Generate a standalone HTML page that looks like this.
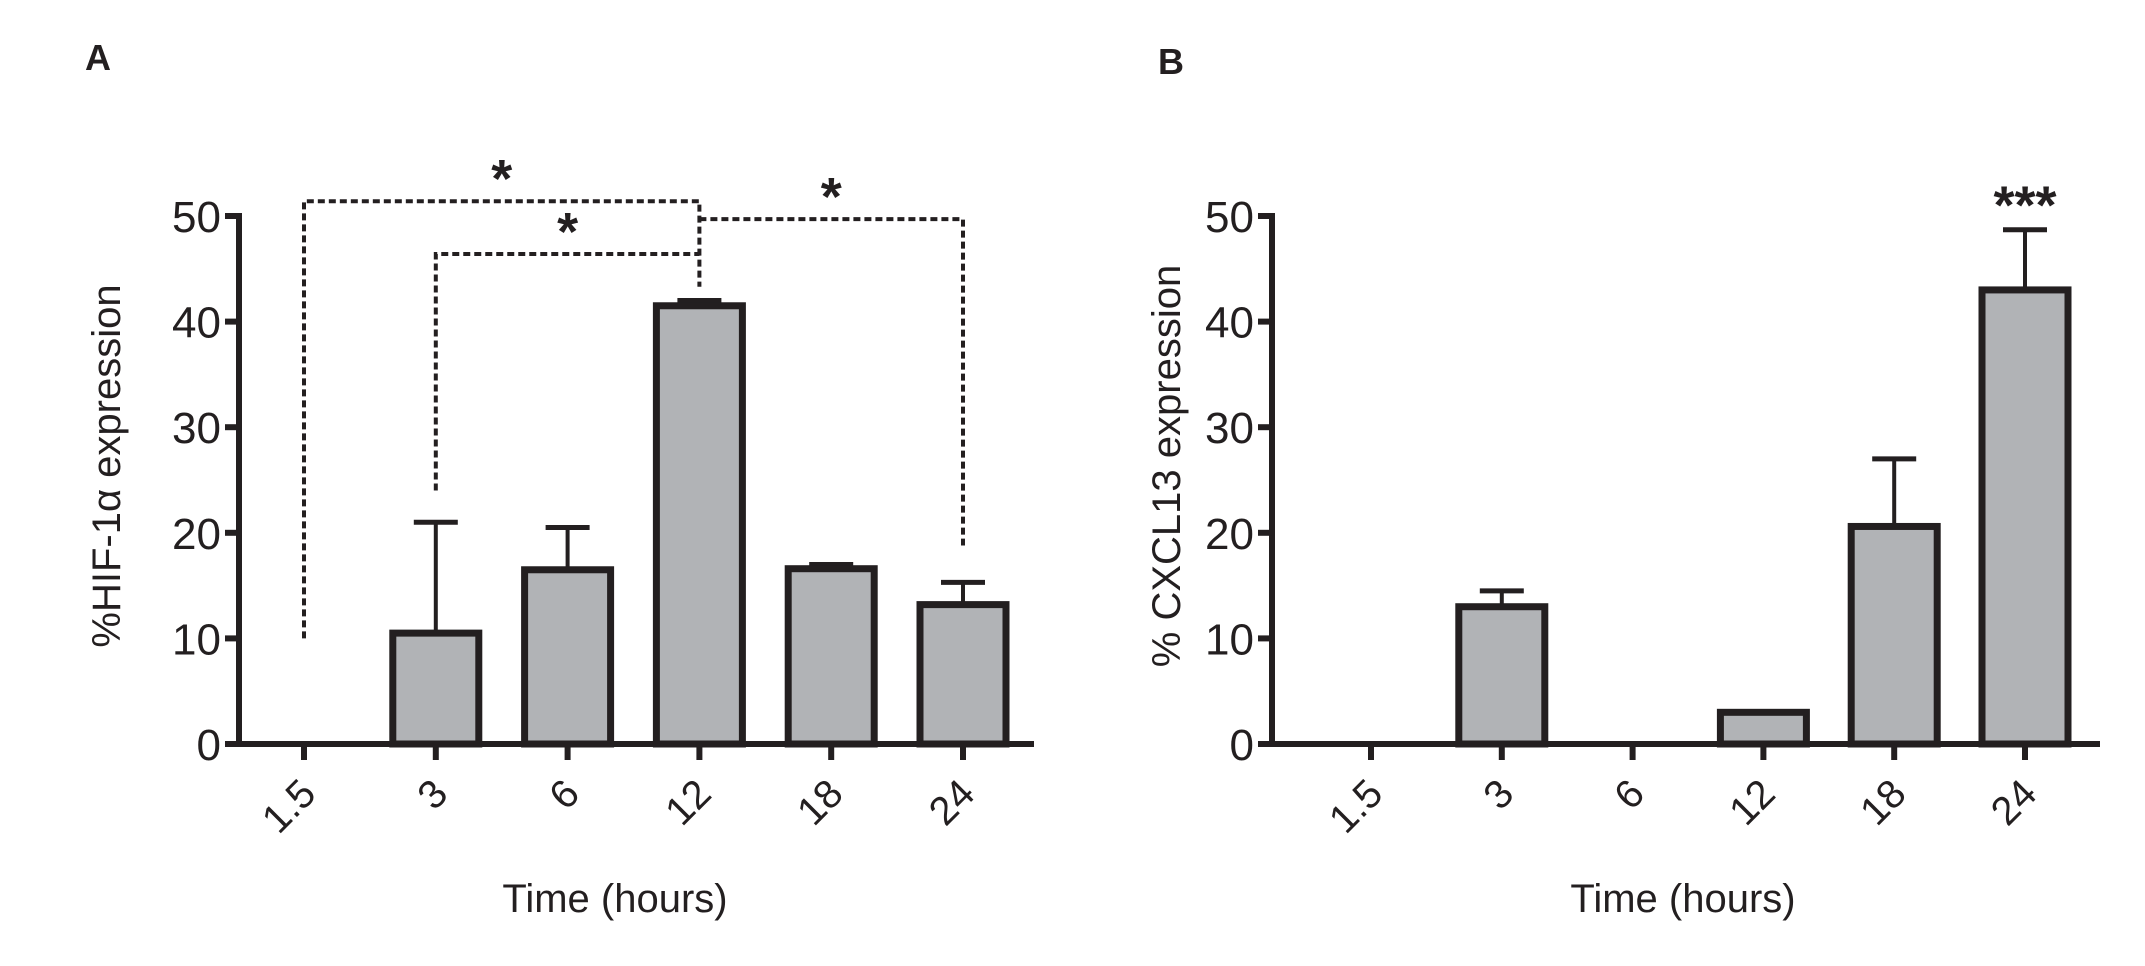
<!DOCTYPE html>
<html><head><meta charset="utf-8"><style>
html,body{margin:0;padding:0;background:#fff;}
svg{display:block;font-family:"Liberation Sans",Arial,sans-serif;}
</style></head><body>
<svg id="fig" width="2145" height="966" viewBox="0 0 2145 966">
<text x="85" y="70" font-size="36" font-weight="bold" fill="#231f20">A</text>
<text x="1158" y="74" font-size="36" font-weight="bold" fill="#231f20">B</text>
<g id="pa"></g>
<g id="pb"></g>
</svg>
<script>
const categories = ["1.5","3","6","12","18","24"];
const hifValues = [0,10.5,16.5,41.5,16.6,13.2];
const hifErrTop = [0,21,20.5,42,17,15.3];
const cxclValues = [0,13,0,3,20.6,43];
const cxclErrTop = [0,14.5,0,3,27,48.7];
const yTicks = [0,10,20,30,40,50];
const hifBrackets = [ // [fromIdx, fromY, topY, toIdx, toY, star label]
  [0,10,51.4,3,43.3,"*"],
  [1,24,46.4,3,46.4,"*"],
  [3,49.7,49.7,5,18.8,"*"]
];
const NS="http://www.w3.org/2000/svg";
function mk(parent,tag,attrs){const e=document.createElementNS(NS,tag);for(const k in attrs)e.setAttribute(k,attrs[k]);parent.appendChild(e);return e;}
function drawPanel(g,cfg){
  const y0=744,y50=216;
  const ys=v=>y0-(v/50)*(y0-y50);
  const xs=i=>cfg.x0+i*cfg.step;
  const col="#231f20";
  cfg.values.forEach((v,i)=>{
    if(cfg.errTop[i]>v){
      const l=mk(g,"line",{x1:xs(i),x2:xs(i),y1:ys(cfg.errTop[i]),y2:ys(v),stroke:col,"stroke-width":4});
      
      
      const c=mk(g,"line",{x1:xs(i)-22,x2:xs(i)+22,y1:ys(cfg.errTop[i]),y2:ys(cfg.errTop[i]),stroke:col,"stroke-width":5});
      
      
    }
    if(v>0){
      const r=mk(g,"rect",{x:xs(i)-43,y:ys(v),width:86,height:y0-ys(v),fill:"#b1b3b6",stroke:col,"stroke-width":7});
      
      
    }
  });
  const ya=mk(g,"line",{x1:cfg.ax,x2:cfg.ax,y1:y50-3,y2:y0+3,stroke:col,"stroke-width":6});
  
  
  const xa=mk(g,"line",{x1:cfg.ax-3,x2:cfg.axEnd,y1:y0,y2:y0,stroke:col,"stroke-width":6});
  
  
  yTicks.forEach(t=>{
    const tl=mk(g,"line",{x1:cfg.ax-14,x2:cfg.ax,y1:ys(t),y2:ys(t),stroke:col,"stroke-width":6});
    
    
    const tx=mk(g,"text",{x:cfg.ax-18,y:ys(t)+16,"font-size":44,"text-anchor":"end",fill:col});
    tx.textContent=t;
    
    
  });
  categories.forEach((c,i)=>{
    const tl=mk(g,"line",{x1:xs(i),x2:xs(i),y1:y0,y2:y0+16,stroke:col,"stroke-width":6});
    
    
    const tx=mk(g,"text",{x:xs(i)+14,y:y0+52,"font-size":40,"text-anchor":"end",fill:col,transform:`rotate(-45 ${xs(i)+14} ${y0+52})`});
    tx.textContent=c;
    
    
  });
  const xt=mk(g,"text",{x:cfg.titleX,y:912,"font-size":40,"text-anchor":"middle",fill:col});
  xt.textContent="Time (hours)";
  
  
  const yt=mk(g,"text",{x:0,y:0,"font-size":40,"text-anchor":"middle",fill:col,transform:`translate(${cfg.ylabX} 466) rotate(-90)`});
  yt.textContent=cfg.ylab;
  
  
  return {xs,ys};
}
const A=drawPanel(document.getElementById("pa"),{x0:304,step:131.8,ax:239,axEnd:1034,values:hifValues,errTop:hifErrTop,titleX:615,ylabX:120,ylab:"%HIF-1\u03b1 expression"});
const B=drawPanel(document.getElementById("pb"),{x0:1371,step:130.8,ax:1272,axEnd:2100,values:cxclValues,errTop:cxclErrTop,titleX:1683,ylabX:1180,ylab:"% CXCL13 expression"});
const pa=document.getElementById("pa");
hifBrackets.forEach((b,k)=>{
  const x1=A.xs(b[0]),x2=A.xs(b[3]);
  const p=mk(pa,"path",{d:`M${x1} ${A.ys(b[1])} V${A.ys(b[2])} H${x2} V${A.ys(b[4])}`,fill:"none",stroke:"#231f20","stroke-width":4,"stroke-dasharray":"7 4"});
  
  
  const s=mk(pa,"text",{x:(x1+x2)/2,y:A.ys(b[2])-4,"font-size":54,"font-weight":"bold","text-anchor":"middle",fill:"#231f20"});
  s.textContent=b[5];
  
  
});
const pb=document.getElementById("pb");
const st=mk(pb,"text",{x:B.xs(5),y:B.ys(cxclErrTop[5])-6,"font-size":54,"font-weight":"bold","text-anchor":"middle",fill:"#231f20"});
st.textContent="***";


</script>
</body></html>
